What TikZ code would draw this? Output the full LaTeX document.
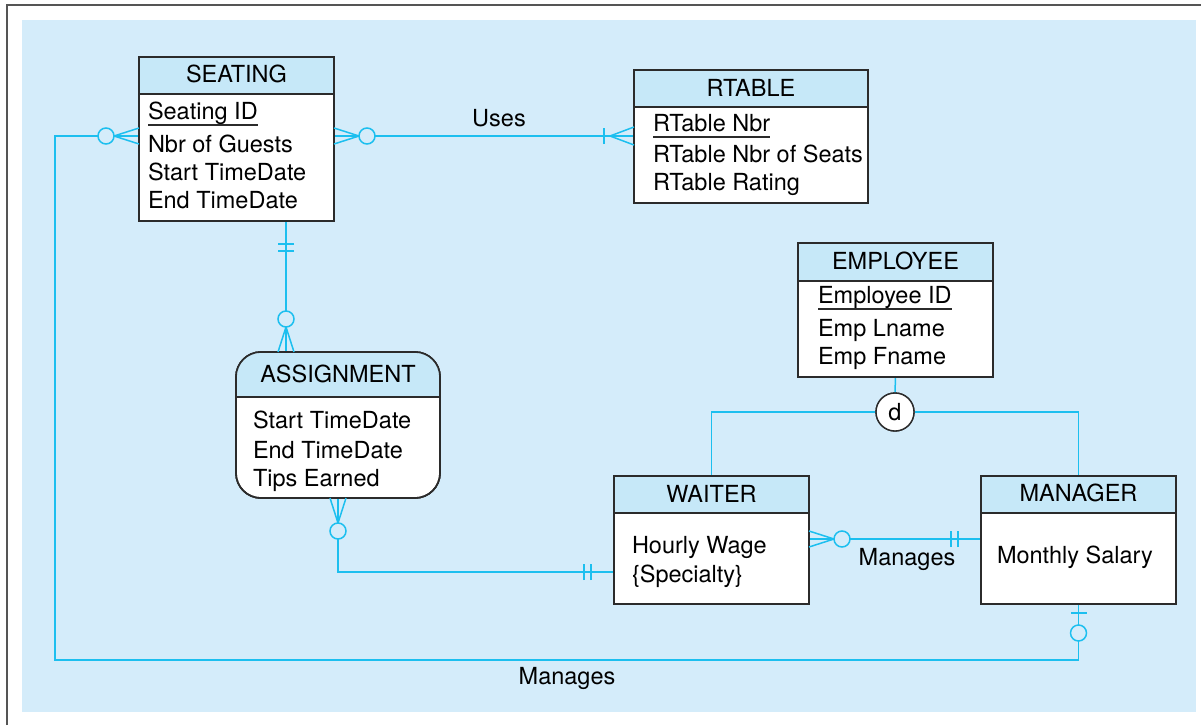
\documentclass[tikz,border=0pt]{standalone}
\usepackage{fontspec}
\setmainfont{TeX Gyre Heros}
\usetikzlibrary{calc}
\definecolor{bgblue}{HTML}{D4ECFA}
\definecolor{hdrblue}{HTML}{C6E8F8}
\definecolor{relblue}{HTML}{1CBFEF}
\definecolor{boxline}{HTML}{2B2B2B}
\definecolor{framegray}{HTML}{555555}
\begin{document}
\begin{tikzpicture}[x=1pt,y=-1pt,
  font=\fontsize{23.5}{28}\selectfont,
  rel/.style={draw=relblue,line width=1.5pt},
  ent/.style={draw=boxline,fill=white,line width=1.6pt,rectangle,inner sep=0pt,outer sep=0pt},
  hdr/.style={draw=boxline,fill=hdrblue,line width=1.6pt},
  attr/.style={anchor=base west,inner sep=0pt,outer sep=0pt},
  ttl/.style={anchor=base,inner sep=0pt,outer sep=0pt},
  lbl/.style={anchor=base,inner sep=0pt,outer sep=0pt},
  ul/.style={draw=boxline,line width=1.2pt},
  pics/crowzero/.style={code={\draw[rel] (0,8)--(25,0)--(0,-8); \draw[rel,fill=bgblue] (33,0) circle (8);}},
  pics/crowone/.style={code={\draw[rel] (0,9)--(24,0)--(0,-9); \draw[rel] (30,-8)--(30,8);}},
  pics/onlyone/.style={code={\draw[rel] (23,-8)--(23,8); \draw[rel] (30,-8)--(30,8);}},
  pics/zeroone/.style={code={\draw[rel] (9,-8)--(9,8); \draw[rel,fill=bgblue] (29,0) circle (8);}}
]
\useasboundingbox (0,0) rectangle (1201,725);
\fill[bgblue] (22,20) rectangle (1196,712);
\draw[framegray,line width=2pt] (7,725) -- (7,5) -- (1201,5);

% entity boxes
\node[ent,minimum width=195pt,minimum height=164pt] (seat) at (236.5,139) {};
\node[ent,minimum width=234pt,minimum height=133pt] (rt) at (751,136.5) {};
\node[ent,minimum width=195pt,minimum height=134pt] (emp) at (895.5,310) {};
\node[ent,minimum width=195pt,minimum height=128pt] (wait) at (711.5,540) {};
\node[ent,minimum width=195pt,minimum height=128pt] (mgr) at (1078.5,540) {};
\node[ent,rounded corners=25pt,minimum width=204pt,minimum height=146pt] (asg) at (338,425) {};
\node[circle,draw=boxline,fill=white,line width=1.4pt,minimum size=38pt,inner sep=0pt] (d) at (895,412) {};

% connectors
\coordinate (lc) at (55,660);
\draw[rel] (seat.west |- 0,136) -| (lc) -| (mgr.south);
\draw[rel] (seat.east |- 0,136) -- (rt.west |- 0,136);
\draw[rel] (seat.south -| 286,0) -- (asg.north -| 286,0);
\draw[rel] (asg.south) |- (wait.west |- 0,572);
\draw[rel] (wait.east |- 0,539) -- (mgr.west |- 0,539);
\draw[rel] (emp.south) -- (d.north);
\draw[rel] (d.west) -| (wait.north);
\draw[rel] (d.east) -| (mgr.north);

% redraw boxes over connectors
\node[ent,minimum width=195pt,minimum height=164pt] at (seat) {};
\draw[hdr] (seat.north west) rectangle ($(seat.north east)+(0,37)$);
\node[ent,minimum width=234pt,minimum height=133pt] at (rt) {};
\draw[hdr] (rt.north west) rectangle ($(rt.north east)+(0,37)$);
\node[ent,minimum width=195pt,minimum height=134pt] at (emp) {};
\draw[hdr] (emp.north west) rectangle ($(emp.north east)+(0,38)$);
\node[ent,minimum width=195pt,minimum height=128pt] at (wait) {};
\draw[hdr] (wait.north west) rectangle ($(wait.north east)+(0,37)$);
\node[ent,minimum width=195pt,minimum height=128pt] at (mgr) {};
\draw[hdr] (mgr.north west) rectangle ($(mgr.north east)+(0,37)$);
\node[ent,rounded corners=25pt,minimum width=204pt,minimum height=146pt] at (asg) {};
\begin{scope}
  \clip[rounded corners=25pt] (asg.north west) rectangle (asg.south east);
  \fill[hdrblue] (asg.north west) rectangle ($(asg.north east)+(0,45)$);
\end{scope}
\draw[boxline,line width=1.6pt] ($(asg.north west)+(0,45)$) -- ($(asg.north east)+(0,45)$);
\draw[boxline,line width=1.6pt,rounded corners=25pt] (asg.north west) rectangle (asg.south east);
\node[circle,draw=boxline,fill=white,line width=1.4pt,minimum size=38pt,inner sep=0pt] at (d) {d};

% cardinality symbols
\pic[rotate=180] at (seat.west |- 0,136) {crowzero};
\pic at (seat.east |- 0,136) {crowzero};
\pic[rotate=180] at (rt.west |- 0,136) {crowone};
\pic[rotate=-90] at (seat.south -| 286,0) {onlyone};
\pic[rotate=90] at (asg.north -| 286,0) {crowzero};
\pic[rotate=-90] at (asg.south) {crowzero};
\pic[rotate=180] at (wait.west |- 0,572) {onlyone};
\pic at (wait.east |- 0,539) {crowzero};
\pic[rotate=180] at (mgr.west |- 0,539) {onlyone};
\pic[rotate=-90] at (mgr.south) {zeroone};

% titles
\node[ttl] (tseat) at (236.5,82) {SEATING};
\node[ttl] (trt) at (751,96) {RTABLE};
\node[ttl] (temp) at (895.5,269) {EMPLOYEE};
\node[ttl] (twait) at (711.5,502) {WAITER};
\node[ttl] (tmgr) at (1078.5,501) {MANAGER};
\node[ttl] (tasg) at (338,382) {ASSIGNMENT};

% attributes
\node[attr] (s1) at (148,119) {Seating ID};
\draw[ul] ($(s1.base west)+(0,6)$) -- ($(s1.base east)+(0,6)$);
\node[attr] (s2) at (148,152) {Nbr of Guests};
\node[attr] (s3) at (148,180) {Start TimeDate};
\node[attr] (s4) at (148,208) {End TimeDate};

\node[attr] (r1) at (653,131) {RTable Nbr};
\draw[ul] ($(r1.base west)+(0,6)$) -- ($(r1.base east)+(0,6)$);
\node[attr] (r2) at (653,162) {RTable Nbr of Seats};
\node[attr] (r3) at (653,190) {RTable Rating};

\node[attr] (e1) at (818,303) {Employee ID};
\draw[ul] ($(e1.base west)+(0,6)$) -- ($(e1.base east)+(0,6)$);
\node[attr] (e2) at (818,336) {Emp Lname};
\node[attr] (e3) at (818,364) {Emp Fname};

\node[attr] (a1) at (253,428) {Start TimeDate};
\node[attr] (a2) at (253,458) {End TimeDate};
\node[attr] (a3) at (253,486) {Tips Earned};

\node[attr] (w1) at (632,553) {Hourly Wage};
\node[attr] (w2) at (632,582) {\{Specialty\}};

\node[attr] (m1) at (997,563) {Monthly Salary};

% relationship labels
\node[lbl] (luses) at (499,126) {Uses};
\node[lbl] (lman1) at (907,565) {Manages};
\node[lbl] (lman2) at (567,684) {Manages};
\end{tikzpicture}
\end{document}
